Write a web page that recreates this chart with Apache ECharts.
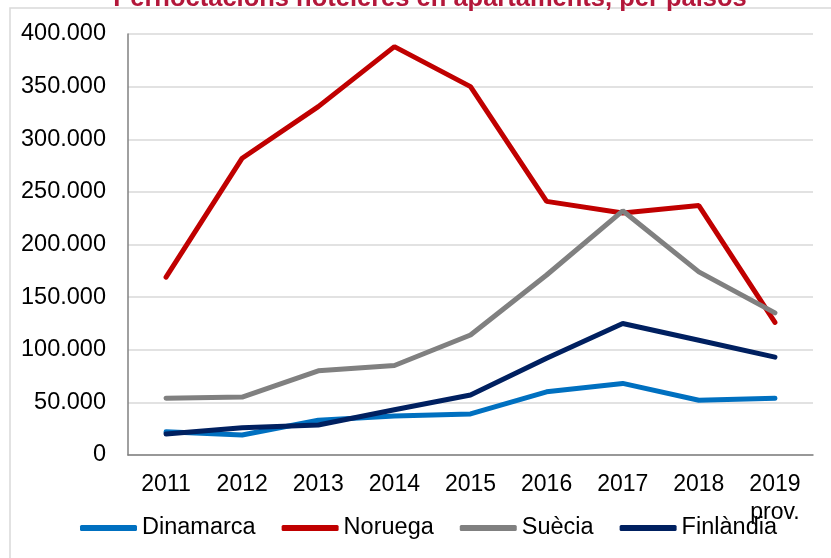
<!DOCTYPE html>
<html>
<head>
<meta charset="utf-8">
<style>html,body{margin:0;padding:0;background:#fff;}#c{width:831px;height:558px;}</style>
<script src="https://cdn.jsdelivr.net/npm/echarts@6/dist/echarts.min.js"></script>
</head>
<body>
<div id="c"></div>
<script>
const categories = ['2011','2012','2013','2014','2015','2016','2017','2018','2019\nprov.'];
const dinamarca = [22000, 19000, 33000, 37000, 39000, 60000, 68000, 52000, 54000];
const noruega   = [169000, 282000, 331000, 388000, 350000, 241000, 230000, 237000, 126000];
const suecia    = [54000, 55000, 80000, 85000, 114000, 171000, 232000, 174000, 135000];
const finlandia = [20000, 26000, 28500, 43000, 57000, 92000, 125000, 109000, 93000];
const yTicks = [0, 50000, 100000, 150000, 200000, 250000, 300000, 350000, 400000];

const font = '"Liberation Sans", Arial, sans-serif';
const chart = echarts.init(document.getElementById('c'));
function mk(name, data, color){
  return {name, type:'line', data, symbol:'none', showSymbol:false,
    lineStyle:{color, width:5, cap:'round', join:'bevel'}, itemStyle:{color}};
}
chart.setOption({
  animation:false,
  title:{text:'Pernoctacions hoteleres en apartaments, per països', left:425, textAlign:'center', top:-19,
    textStyle:{color:'#B3173A', fontFamily:font, fontSize:25.5, fontWeight:'bold'}},
  graphic:[{type:'rect', z:-1, shape:{x:10, y:8, width:900, height:700},
    style:{fill:'none', stroke:'#D9D9D9', lineWidth:1.5}}],
  grid:{left:128, right:18, top:34, bottom:103},
  legend:{left:75, top:511, icon:'roundRect', itemWidth:57, itemHeight:6, itemGap:26,
    textStyle:{fontFamily:font, fontSize:23.5, color:'#000'},
    data:['Dinamarca','Noruega','Suècia','Finlàndia']},
  xAxis:{type:'category', data:categories, boundaryGap:true,
    axisLine:{lineStyle:{color:'#808080', width:1.5}}, axisTick:{show:false},
    axisLabel:{fontFamily:font, fontSize:23, color:'#000', margin:16, lineHeight:28, interval:0}},
  yAxis:{type:'value', min:0, max:400000, interval:50000,
    axisLine:{show:true, lineStyle:{color:'#808080', width:1.5}}, axisTick:{show:false},
    splitLine:{lineStyle:{color:'#D9D9D9', width:1.5}},
    axisLabel:{fontFamily:font, fontSize:23.5, color:'#000', margin:22,
      formatter:v=>yTicks.includes(v)? String(v).replace(/\B(?=(\d{3})+(?!\d))/g,'.') : ''}},
  series:[mk('Dinamarca', dinamarca, '#0070C0'), mk('Noruega', noruega, '#C00000'),
          mk('Suècia', suecia, '#808080'), mk('Finlàndia', finlandia, '#002060')]
});
</script>
</body>
</html>
